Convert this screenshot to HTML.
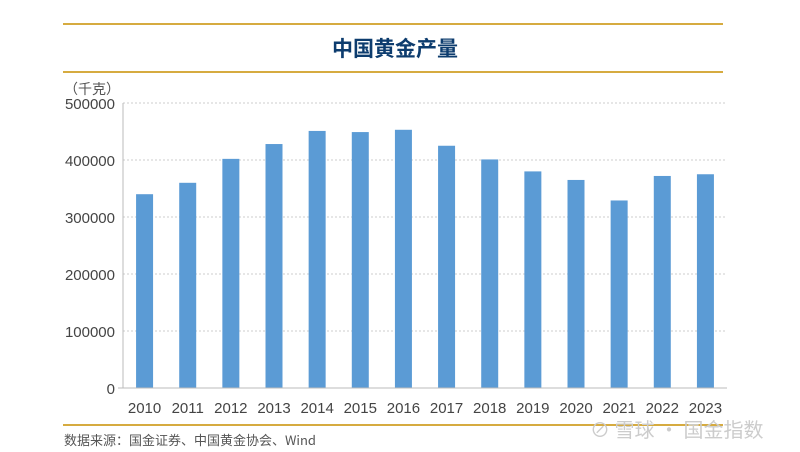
<!DOCTYPE html>
<html><head><meta charset="utf-8"><style>
body{margin:0;background:#fff;width:800px;height:452px;overflow:hidden;font-family:"Liberation Sans","Noto Sans CJK SC",sans-serif}
</style></head><body>
<svg width="800" height="452" style="position:absolute;left:0;top:0">
<line x1="63" y1="24" x2="723" y2="24" stroke="#c98f00" stroke-width="1.5"/>
<line x1="63" y1="72" x2="723" y2="72" stroke="#c98f00" stroke-width="1.5"/>
<text x="395" y="56" text-anchor="middle" font-size="21" font-weight="bold" fill="#0d3c6e" font-family="Noto Sans CJK SC,sans-serif">中国黄金产量</text>
<text x="64" y="94" font-size="14" fill="#555" font-family="Noto Sans CJK SC,sans-serif">（千克）</text>
<g id="grid"></g><g id="bars"></g><g id="xl"></g>
<line x1="123" y1="103" x2="123" y2="388" stroke="#bbb"/>
<line x1="118" y1="388" x2="727" y2="388" stroke="#bbb"/>
<line x1="63" y1="425" x2="723" y2="425" stroke="#c98f00" stroke-width="1.5"/>
<text x="64" y="445" font-size="13" fill="#555" font-family="Noto Sans CJK SC,sans-serif">数据来源：国金证券、中国黄金协会、Wind</text>
<text x="590" y="437" font-size="20" fill="#ccc" font-family="Noto Sans CJK SC,sans-serif">⊘ 雪球 · 国金指数</text>
</svg>
<script>
const categories=["2010","2011","2012","2013","2014","2015","2016","2017","2018","2019","2020","2021","2022","2023"];
const values=[340000,360000,402000,428000,451000,449000,453000,425000,401000,380000,365000,329000,372000,375000];
const ticks=[0,100000,200000,300000,400000,500000];
const NS="http://www.w3.org/2000/svg";
const x0=123,x1=727,y0=388,y1=103,ymax=500000;
const bw=(x1-x0)/categories.length;
const y=v=>y0-(v/ymax)*(y0-y1);
const xc=i=>x0+bw*(i+0.5);
function mk(t,a,p){const e=document.createElementNS(NS,t);for(const k in a)e.setAttribute(k,a[k]);p.appendChild(e);return e;}
const g=document.getElementById('grid');
ticks.forEach(t=>{
 if(t>0){const l=mk('line',{x1:x0,x2:x1,y1:y(t),y2:y(t),stroke:'#ccc','stroke-dasharray':'2,2'},g);
 
 }
 const tx=mk('text',{x:115,y:y(t)+6,'text-anchor':'end','font-size':'15',fill:'#444'},g);
 tx.textContent=t;
 
 
});
const b=document.getElementById('bars'),xl=document.getElementById('xl');
values.forEach((v,i)=>{
 const r=mk('rect',{x:xc(i)-8.5,y:y(v),width:17,height:y0-y(v),fill:'#5b9bd5'},b);
 
 
 const t=mk('text',{x:xc(i),y:413,'text-anchor':'middle','font-size':'15',fill:'#444'},xl);
 t.textContent=categories[i];
 
 
});
</script>
</body></html>
